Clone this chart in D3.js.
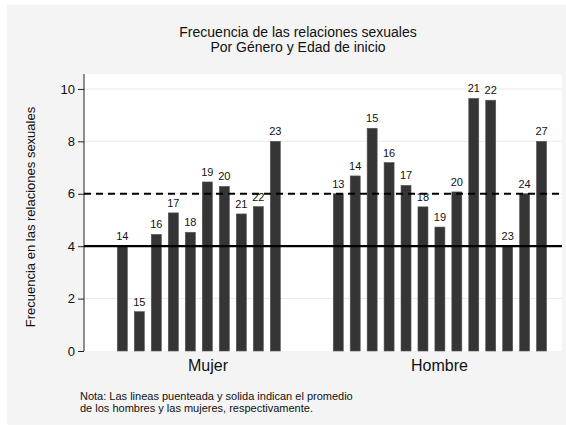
<!DOCTYPE html>
<html>
<head>
<meta charset="utf-8">
<script src="https://cdn.jsdelivr.net/npm/d3@7"></script>
<style>
  body { margin: 0; background: #fff; }
  svg { display: block; font-family: "Liberation Sans", Arial, sans-serif; }
</style>
</head>
<body>
<svg id="chart" width="566" height="426"></svg>
<script>
// datos
var generos = ["Mujer", "Hombre"];
var edadesMujer = ["14", "15", "16", "17", "18", "19", "20", "21", "22", "23"];
var frecMujer = [4.0, 1.5, 4.45, 5.27, 4.53, 6.45, 6.28, 5.23, 5.51, 8.0];
var edadesHombre = ["13", "14", "15", "16", "17", "18", "19", "20", "21", "22", "23", "24", "27"];
var frecHombre = [6.0, 6.68, 8.5, 7.19, 6.32, 5.5, 4.73, 6.07, 9.64, 9.57, 4.0, 6.0, 8.0];
var promedios = [4.0, 6.0];          // mujeres (solida), hombres (punteada)
var yTicks = [0, 2, 4, 6, 8, 10];

var svg = d3.select("#chart");
var width = +svg.attr("width");
var height = +svg.attr("height");

// fondo gris del grafico
svg.append("rect")
  .attr("x", 7).attr("y", 5)
  .attr("width", width - 7).attr("height", height - 6)
  .attr("fill", "#f4f4f4");

var plot = { left: 84, right: 562, top: 74, bottom: 351 };

svg.append("rect")
  .attr("x", plot.left).attr("y", plot.top)
  .attr("width", plot.right - plot.left).attr("height", plot.bottom - plot.top)
  .attr("fill", "#fff");

var y = d3.scaleLinear().domain([0, 10.57]).range([plot.bottom, plot.top]);

// una escala por grupo, con el mismo ancho de barra
var xMujer = d3.scaleBand().domain(edadesMujer).range([113.8, 283.8])
  .paddingInner(0.41).paddingOuter(0.205);
var xHombre = d3.scaleBand().domain(edadesHombre).range([329.8, 550])
  .paddingInner(0.41).paddingOuter(0.205);

var grupos = [
  { nombre: generos[0], edades: edadesMujer, frec: frecMujer, x: xMujer, labelX: 208 },
  { nombre: generos[1], edades: edadesHombre, frec: frecHombre, x: xHombre, labelX: 439.5 }
];

// lineas de la grilla
svg.append("g").selectAll("line")
  .data(yTicks.filter(function(d) { return d > 0; }))
  .enter().append("line")
  .attr("x1", plot.left).attr("x2", plot.right)
  .attr("y1", function(d) { return y(d); })
  .attr("y2", function(d) { return y(d); })
  .attr("stroke", "#eaeaea").attr("stroke-width", 1);

// eje y
var yAxis = svg.append("g")
  .attr("transform", "translate(" + plot.left + ",0)")
  .call(d3.axisLeft(y).tickValues(yTicks).tickSize(6).tickPadding(3).tickSizeOuter(0));
yAxis.select(".domain").attr("d", "M0," + plot.top + "V" + plot.bottom).attr("stroke", "#222");
yAxis.selectAll(".tick line").attr("stroke", "#222");
yAxis.selectAll(".tick text")
  .attr("font-size", 13).attr("fill", "#111")
  .attr("font-family", "Liberation Sans, Arial, sans-serif");

// barras y etiquetas
grupos.forEach(function(g) {
  var datos = g.edades.map(function(e, i) { return { edad: e, v: g.frec[i] }; });
  var cuerpo = svg.append("g");
  cuerpo.selectAll("rect")
    .data(datos)
    .enter().append("rect")
    .attr("x", function(d) { return g.x(d.edad); })
    .attr("width", g.x.bandwidth())
    .attr("y", function(d) { return y(d.v); })
    .attr("height", function(d) { return y(0) - y(d.v); })
    .attr("fill", "#353535")
    .attr("stroke", "#555").attr("stroke-width", 0.6);

  cuerpo.selectAll("text")
    .data(datos)
    .enter().append("text")
    .attr("x", function(d) { return g.x(d.edad) + g.x.bandwidth() / 2; })
    .attr("y", function(d) { return y(d.v) - 6; })
    .attr("text-anchor", "middle")
    .attr("font-size", 11).attr("fill", "#111")
    .text(function(d) { return d.edad; });

  svg.append("text")
    .attr("x", g.labelX).attr("y", 371)
    .attr("text-anchor", "middle")
    .attr("font-size", 16).attr("fill", "#111")
    .text(g.nombre);
});

// promedios: solida = mujeres, punteada = hombres
svg.append("g").selectAll("line")
  .data(promedios)
  .enter().append("line")
  .attr("x1", plot.left).attr("x2", plot.right)
  .attr("y1", function(d) { return y(d); })
  .attr("y2", function(d) { return y(d); })
  .attr("stroke", "#000").attr("stroke-width", 2.2)
  .attr("stroke-dasharray", function(d, i) { return i == 1 ? "7,5" : null; });

// titulos
svg.append("text")
  .attr("x", 298).attr("y", 37)
  .attr("text-anchor", "middle").attr("font-size", 14).attr("fill", "#111")
  .text("Frecuencia de las relaciones sexuales");
svg.append("text")
  .attr("x", 298).attr("y", 52)
  .attr("text-anchor", "middle").attr("font-size", 14).attr("fill", "#111")
  .text("Por Género y Edad de inicio");

svg.append("text")
  .attr("transform", "translate(35,217) rotate(-90)")
  .attr("text-anchor", "middle").attr("font-size", 13).attr("fill", "#111")
  .text("Frecuencia en las relaciones sexuales");

// nota
svg.append("text")
  .attr("x", 80).attr("y", 399.5)
  .attr("font-size", 11).attr("fill", "#111")
  .text("Nota: Las lineas puenteada y solida indican el promedio");
svg.append("text")
  .attr("x", 80).attr("y", 412)
  .attr("font-size", 11).attr("fill", "#111")
  .text("de los hombres y las mujeres, respectivamente.");
</script>
</body>
</html>
